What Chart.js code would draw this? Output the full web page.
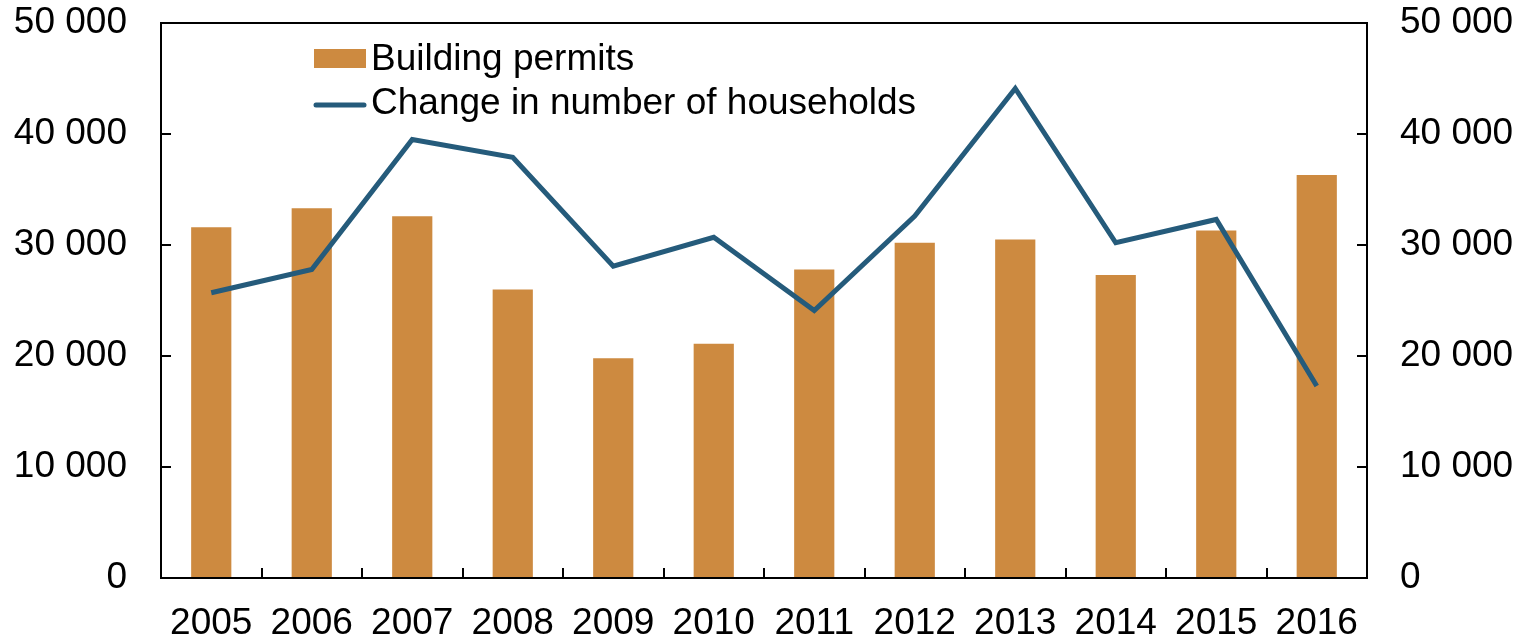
<!DOCTYPE html>
<html>
<head>
<meta charset="utf-8">
<script src="https://cdn.jsdelivr.net/npm/chart.js@4"></script>
<style>
  html, body { margin: 0; padding: 0; background: #fff; }
  #wrap { width: 1523px; height: 639px; }
</style>
</head>
<body>
<div id="wrap"><canvas id="permitsChart" width="1523" height="639"></canvas></div>
<script>
// values
const years = ['2005', '2006', '2007', '2008', '2009', '2010', '2011', '2012', '2013', '2014', '2015', '2016'];
const buildingPermits = [31600, 33300, 32600, 26000, 19800, 21100, 27800, 30200, 30500, 27300, 31300, 36300];
const householdChange = [25700, 27800, 39500, 37900, 28100, 30700, 24100, 32600, 44100, 30200, 32300, 17300];
const yTicks = [0, 10000, 20000, 30000, 40000, 50000];

const barColor = '#CD8A40';
const lineColor = '#255B7B';
const fontFamily = '"Liberation Sans", Arial, sans-serif';

function fmt(v) {
    return String(v).replace(/\B(?=(\d{3})+(?!\d))/g, ' ');
}

// frame, inward ticks and the legend inside the plot
const framePlugin = {
    id: 'frame',
    afterDraw(chart) {
        const ctx = chart.ctx;
        const a = chart.chartArea;
        ctx.save();
        ctx.strokeStyle = '#000';
        ctx.lineWidth = 2;
        ctx.strokeRect(a.left, a.top, a.right - a.left, a.bottom - a.top);

        // y ticks pointing in
        const y = chart.scales.y;
        yTicks.forEach(v => {
            const py = Math.round(y.getPixelForValue(v));
            ctx.beginPath();
            ctx.moveTo(a.left, py); ctx.lineTo(a.left + 10, py);
            ctx.moveTo(a.right, py); ctx.lineTo(a.right - 10, py);
            ctx.stroke();
        });
        // x ticks between categories, pointing up
        const step = (a.right - a.left) / years.length;
        for (let i = 1; i < years.length; i++) {
            const px = Math.round(a.left + step * i);
            ctx.beginPath();
            ctx.moveTo(px, a.bottom); ctx.lineTo(px, a.bottom - 10);
            ctx.stroke();
        }

        // legend
        ctx.font = '37px ' + fontFamily;
        ctx.textBaseline = 'middle';
        ctx.fillStyle = barColor;
        ctx.fillRect(314, 49, 52, 19);
        ctx.strokeStyle = lineColor;
        ctx.lineWidth = 5;
        ctx.lineCap = 'round';
        ctx.beginPath();
        ctx.moveTo(316, 105); ctx.lineTo(364, 105);
        ctx.stroke();
        ctx.fillStyle = '#000';
        ctx.fillText('Building permits', 371, 60);
        ctx.fillText('Change in number of households', 371, 104);
        ctx.restore();
    }
};

const noPad = s => { s.paddingTop = 0; s.paddingBottom = 0; };

const ctx = document.getElementById('permitsChart').getContext('2d');
new Chart(ctx, {
    type: 'bar',
    data: {
        labels: years,
        datasets: [
            {
                type: 'line',
                label: 'Change in number of households',
                data: householdChange,
                borderColor: lineColor,
                borderWidth: 5,
                pointRadius: 0,
                tension: 0,
                borderJoinStyle: 'miter',
                yAxisID: 'y',
                order: 0
            },
            {
                type: 'bar',
                label: 'Building permits',
                data: buildingPermits,
                backgroundColor: barColor,
                barPercentage: 0.4,
                categoryPercentage: 1,
                yAxisID: 'y',
                order: 1
            }
        ]
    },
    options: {
        responsive: false,
        animation: false,
        layout: { padding: { top: 23, bottom: 0, left: 0, right: 0 } },
        plugins: {
            legend: { display: false },
            tooltip: { enabled: false }
        },
        scales: {
            x: {
                offset: true,
                grid: { display: false, drawTicks: false },
                border: { display: false },
                ticks: {
                    color: '#000',
                    font: { family: fontFamily, size: 37 },
                    padding: 24,
                    maxRotation: 0,
                    autoSkip: false
                },
                afterFit: s => { s.height = 61; s.paddingLeft = 0; s.paddingRight = 0; }
            },
            y: {
                position: 'left',
                min: 0,
                max: 50000,
                grid: { display: false, drawTicks: false },
                border: { display: false },
                ticks: {
                    stepSize: 10000,
                    color: '#000',
                    font: { family: fontFamily, size: 37 },
                    padding: 34,
                    callback: v => fmt(v)
                },
                afterFit: s => { s.width = 161; noPad(s); }
            },
            y2: {
                position: 'right',
                min: 0,
                max: 50000,
                grid: { display: false, drawTicks: false },
                border: { display: false },
                ticks: {
                    stepSize: 10000,
                    color: '#000',
                    font: { family: fontFamily, size: 37 },
                    padding: 33,
                    callback: v => fmt(v)
                },
                afterFit: s => { s.width = 156; noPad(s); }
            }
        }
    },
    plugins: [framePlugin]
});
</script>
</body>
</html>
